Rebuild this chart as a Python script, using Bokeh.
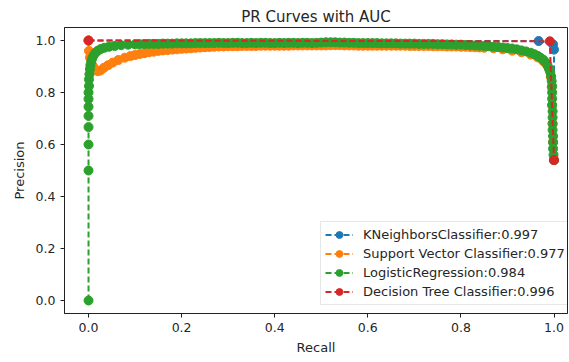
from bokeh.plotting import figure
from bokeh.models import Range1d, FixedTicker, PrintfTickFormatter, Legend, LegendItem
from bokeh.embed import file_html
from bokeh.resources import INLINE

# ---------------- data ----------------
x_ticks = [0.0, 0.2, 0.4, 0.6, 0.8, 1.0]
y_ticks = [0.0, 0.2, 0.4, 0.6, 0.8, 1.0]

knn_label = "KNeighborsClassifier:0.997"
knn_recall = [0.000, 0.967, 0.998, 1.000, 1.000]
knn_precision = [1.000, 0.998, 0.985, 0.965, 0.540]

svc_label = "Support Vector Classifier:0.977"
svc_recall = [0.000, 0.001, 0.003, 0.006, 0.010, 0.015, 0.020, 0.026, 0.033, 0.042,
              0.052, 0.064, 0.078, 0.090,
              0.10, 0.11, 0.12, 0.13, 0.14, 0.15, 0.16, 0.17, 0.18, 0.19,
              0.20, 0.21, 0.22, 0.23, 0.24, 0.25, 0.26, 0.27, 0.28, 0.29,
              0.30, 0.31, 0.32, 0.33, 0.34, 0.35, 0.36, 0.37, 0.38, 0.39,
              0.40, 0.41, 0.42, 0.43, 0.44, 0.45, 0.46, 0.47, 0.48, 0.49,
              0.50, 0.51, 0.52, 0.53, 0.54, 0.55, 0.56, 0.57, 0.58, 0.59,
              0.60, 0.61, 0.62, 0.63, 0.64, 0.65, 0.66, 0.67, 0.68, 0.69,
              0.70, 0.71, 0.72, 0.73, 0.74, 0.75, 0.76, 0.77, 0.78, 0.79,
              0.80, 0.81, 0.82, 0.83, 0.84, 0.85,
              0.87, 0.89, 0.91, 0.93, 0.95, 0.965, 0.977, 0.985, 0.990, 0.993,
              0.995, 0.996, 0.997, 0.998, 1.000]
svc_precision = [1.000, 0.960, 0.935, 0.915, 0.900, 0.888, 0.882, 0.885, 0.895, 0.905,
                 0.915, 0.925, 0.934, 0.940,
                 0.944, 0.948, 0.951, 0.955, 0.957, 0.960, 0.962, 0.963, 0.965, 0.966,
                 0.968, 0.969, 0.970, 0.972, 0.973, 0.974, 0.975, 0.976, 0.977, 0.977,
                 0.978, 0.978, 0.978, 0.979, 0.979, 0.979, 0.979, 0.980, 0.980, 0.980,
                 0.980, 0.980, 0.980, 0.980, 0.981, 0.981, 0.981, 0.981, 0.981, 0.981,
                 0.981, 0.981, 0.982, 0.982, 0.982, 0.981, 0.981, 0.981, 0.980, 0.980,
                 0.980, 0.980, 0.980, 0.980, 0.980, 0.980, 0.980, 0.980, 0.980, 0.979,
                 0.979, 0.979, 0.979, 0.979, 0.978, 0.978, 0.978, 0.977, 0.977, 0.977,
                 0.976, 0.976, 0.975, 0.974, 0.973, 0.972,
                 0.970, 0.966, 0.961, 0.955, 0.946, 0.935, 0.920, 0.905, 0.888, 0.860,
                 0.820, 0.750, 0.680, 0.610, 0.540]

lr_label = "LogisticRegression:0.984"
lr_recall = [0.000, 0.000, 0.000, 0.000, 0.000, 0.000, 0.000, 0.000, 0.001, 0.001,
             0.002, 0.003, 0.004, 0.006, 0.008, 0.011, 0.015, 0.020, 0.026, 0.034,
             0.044, 0.056, 0.070, 0.085,
             0.10, 0.11, 0.12, 0.13, 0.14, 0.15, 0.16, 0.17, 0.18, 0.19,
             0.20, 0.21, 0.22, 0.23, 0.24, 0.25, 0.26, 0.27, 0.28, 0.29,
             0.30, 0.31, 0.32, 0.33, 0.34, 0.35, 0.36, 0.37, 0.38, 0.39,
             0.40, 0.41, 0.42, 0.43, 0.44, 0.45, 0.46, 0.47, 0.48, 0.49,
             0.50, 0.51, 0.52, 0.53, 0.54, 0.55, 0.56, 0.57, 0.58, 0.59,
             0.60, 0.61, 0.62, 0.63, 0.64, 0.65, 0.66, 0.67, 0.68, 0.69,
             0.70, 0.71, 0.72, 0.73, 0.74, 0.75, 0.76, 0.77, 0.78, 0.79,
             0.80, 0.81, 0.82, 0.83, 0.84, 0.85, 0.86, 0.87, 0.88, 0.89,
             0.90, 0.91, 0.92, 0.93, 0.94, 0.95, 0.958, 0.965, 0.971, 0.977,
             0.982, 0.986, 0.989, 0.992, 0.994, 0.995, 0.996, 0.996, 0.996, 0.996,
             0.997, 0.997, 0.997, 0.997, 0.998, 0.998, 0.998, 0.999, 1.000]
lr_precision = [0.000, 0.500, 0.600, 0.667, 0.710, 0.745, 0.775, 0.800, 0.825, 0.850,
                0.870, 0.890, 0.905, 0.920, 0.932, 0.943, 0.953, 0.961, 0.967, 0.972,
                0.976, 0.979, 0.982, 0.984,
                0.985, 0.986, 0.986, 0.987, 0.987, 0.987, 0.988, 0.988, 0.988, 0.989,
                0.989, 0.989, 0.989, 0.990, 0.990, 0.990, 0.990, 0.990, 0.991, 0.990,
                0.990, 0.991, 0.991, 0.990, 0.990, 0.991, 0.990, 0.991, 0.991, 0.990,
                0.990, 0.991, 0.990, 0.991, 0.991, 0.990, 0.991, 0.991, 0.990, 0.991,
                0.992, 0.993, 0.993, 0.993, 0.992, 0.992, 0.991, 0.991, 0.990, 0.990,
                0.990, 0.990, 0.990, 0.989, 0.989, 0.989, 0.989, 0.988, 0.988, 0.988,
                0.988, 0.987, 0.987, 0.987, 0.987, 0.986, 0.986, 0.985, 0.985, 0.984,
                0.984, 0.983, 0.982, 0.981, 0.980, 0.979, 0.978, 0.976, 0.975, 0.973,
                0.971, 0.969, 0.966, 0.962, 0.958, 0.953, 0.947, 0.941, 0.934, 0.926,
                0.916, 0.905, 0.893, 0.878, 0.862, 0.844, 0.824, 0.800, 0.776, 0.752,
                0.728, 0.704, 0.680, 0.656, 0.632, 0.608, 0.584, 0.560, 0.540]

dt_label = "Decision Tree Classifier:0.996"
dt_recall = [0.000, 0.991, 1.000]
dt_precision = [1.000, 0.997, 0.540]

series = [
    (knn_label, knn_recall, knn_precision, "#1f77b4"),
    (svc_label, svc_recall, svc_precision, "#ff7f0e"),
    (lr_label, lr_recall, lr_precision, "#2ca02c"),
    (dt_label, dt_recall, dt_precision, "#d62728"),
]

FONT = "DejaVu Sans"
TXT = "#262626"

p = figure(width=569, height=362, output_backend="svg", toolbar_location=None,
           x_range=Range1d(-0.0516, 1.029), y_range=Range1d(-0.05, 1.05),
           min_border_left=64, min_border_right=2, min_border_top=27, min_border_bottom=49,
           title="PR Curves with AUC")

p.title.align = "center"
p.title.text_font = FONT
p.title.text_font_size = "15px"
p.title.text_font_style = "normal"
p.title.text_color = TXT
p.title.standoff = 4

p.xgrid.visible = False
p.ygrid.visible = False
p.outline_line_color = "#222222"
p.outline_line_width = 1

for ax in (p.xaxis[0], p.yaxis[0]):
    ax.major_label_text_font = FONT
    ax.major_label_text_font_size = "12.5px"
    ax.major_label_text_color = TXT
    ax.axis_label_text_font = FONT
    ax.axis_label_text_font_size = "13px"
    ax.axis_label_text_font_style = "normal"
    ax.axis_label_text_color = TXT
    ax.axis_line_color = "#222222"
    ax.major_tick_line_color = "#222222"
    ax.major_tick_out = 4
    ax.major_tick_in = 0
    ax.minor_tick_line_color = None
    ax.formatter = PrintfTickFormatter(format="%.1f")

p.xaxis[0].ticker = FixedTicker(ticks=x_ticks)
p.yaxis[0].ticker = FixedTicker(ticks=y_ticks)
p.xaxis[0].axis_label = "Recall"
p.yaxis[0].axis_label = "Precision"
p.xaxis[0].axis_label_standoff = 5
p.yaxis[0].axis_label_standoff = 6

items = []
for label, r, pr, color in series:
    ln = p.line(r, pr, line_color=color, line_width=2, line_dash="6 3")
    sc = p.scatter(r, pr, size=9, fill_color=color, line_color=color)
    items.append(LegendItem(label=label, renderers=[ln, sc]))

legend = Legend(items=items, location=(256, 8), margin=0, padding=4, spacing=2,
                glyph_height=17, glyph_width=28, label_standoff=10,
                label_text_font=FONT, label_text_font_size="13px", label_text_color=TXT,
                border_line_color="#d0d0d0", border_line_width=1,
                background_fill_color="white", background_fill_alpha=0.85)
p.add_layout(legend, "center")

open("out.html", "w").write(file_html(p, INLINE))
